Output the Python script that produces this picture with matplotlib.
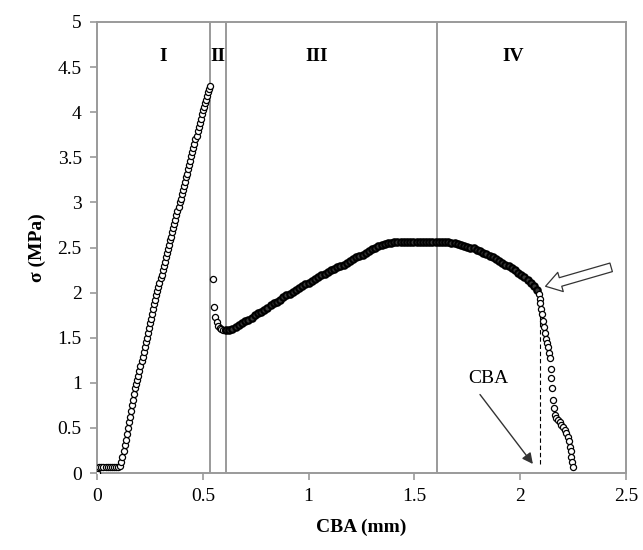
import numpy as np
import matplotlib
matplotlib.use('Agg')
import matplotlib.pyplot as plt

# toe region
x_toe = [0.0, 0.005, 0.01, 0.02, 0.03, 0.04, 0.05, 0.06, 0.07, 0.08, 0.09, 0.10, 0.11]
y_toe = [0.0, 0.05, 0.07, 0.07, 0.07, 0.07, 0.07, 0.07, 0.07, 0.07, 0.07, 0.07, 0.08]

# stage I - linear rise
x_rise = [0.115, 0.12, 0.125, 0.13, 0.135, 0.14, 0.145, 0.15, 0.155, 0.16, 0.165, 0.17,
          0.175, 0.18, 0.185, 0.19, 0.195, 0.20, 0.205, 0.21, 0.215, 0.22, 0.225, 0.23,
          0.235, 0.24, 0.245, 0.25, 0.255, 0.26, 0.265, 0.27, 0.275, 0.28, 0.285, 0.29,
          0.295, 0.30, 0.305, 0.31, 0.315, 0.32, 0.325, 0.33, 0.335, 0.34, 0.345, 0.35,
          0.355, 0.36, 0.365, 0.37, 0.375, 0.38, 0.385, 0.39, 0.395, 0.40, 0.405, 0.41,
          0.415, 0.42, 0.425, 0.43, 0.435, 0.44, 0.445, 0.45, 0.455, 0.46, 0.465, 0.47,
          0.475, 0.48, 0.485, 0.49, 0.495, 0.50, 0.505, 0.51, 0.515, 0.52, 0.525, 0.53, 0.535]
y_rise = [0.12, 0.18, 0.24, 0.31, 0.37, 0.43, 0.50, 0.56, 0.62, 0.69, 0.75, 0.81,
          0.88, 0.94, 0.99, 1.03, 1.08, 1.13, 1.19, 1.24, 1.29, 1.34, 1.40, 1.45,
          1.50, 1.55, 1.61, 1.66, 1.71, 1.76, 1.82, 1.87, 1.92, 1.97, 2.02, 2.06,
          2.11, 2.16, 2.20, 2.25, 2.30, 2.34, 2.39, 2.44, 2.48, 2.53, 2.58, 2.62,
          2.67, 2.72, 2.76, 2.81, 2.86, 2.90, 2.95, 3.00, 3.04, 3.09, 3.14, 3.18,
          3.23, 3.28, 3.32, 3.37, 3.42, 3.46, 3.51, 3.56, 3.60, 3.65, 3.70, 3.74,
          3.79, 3.84, 3.88, 3.93, 3.98, 4.02, 4.06, 4.10, 4.14, 4.18, 4.22, 4.26, 4.29]

# stage II - drop
x_drop = [0.548, 0.552, 0.558, 0.565, 0.572, 0.58, 0.588, 0.596, 0.603]
y_drop = [2.15, 1.84, 1.73, 1.67, 1.63, 1.61, 1.60, 1.59, 1.585]

# stage III/IV - plateau
x_plat = [0.61, 0.625, 0.64, 0.655, 0.67, 0.685, 0.70, 0.715, 0.73, 0.745, 0.76, 0.775,
          0.79, 0.805, 0.82, 0.835, 0.85, 0.865, 0.88, 0.895, 0.91, 0.925, 0.94, 0.955,
          0.97, 0.985, 1.00, 1.015, 1.03, 1.045, 1.06, 1.075, 1.09, 1.105, 1.12, 1.135,
          1.15, 1.165, 1.18, 1.195, 1.21, 1.225, 1.24, 1.255, 1.27, 1.285, 1.30, 1.315,
          1.33, 1.345, 1.36, 1.375, 1.39, 1.405, 1.42, 1.435, 1.45, 1.465, 1.48, 1.495,
          1.51, 1.525, 1.54, 1.555, 1.57, 1.585, 1.60, 1.615, 1.63, 1.645, 1.66, 1.675,
          1.69, 1.705, 1.72, 1.735, 1.75, 1.765, 1.78, 1.795, 1.81, 1.825, 1.84, 1.855,
          1.87, 1.885, 1.90, 1.915, 1.93, 1.945, 1.96, 1.975, 1.99, 2.005, 2.02, 2.035,
          2.05, 2.065, 2.08]
y_plat = [1.59, 1.59, 1.60, 1.62, 1.64, 1.66, 1.68, 1.70, 1.72, 1.75, 1.77, 1.79,
          1.81, 1.83, 1.86, 1.88, 1.90, 1.92, 1.95, 1.97, 1.99, 2.01, 2.03, 2.05,
          2.07, 2.09, 2.11, 2.13, 2.15, 2.17, 2.19, 2.21, 2.23, 2.25, 2.26, 2.28,
          2.30, 2.31, 2.33, 2.35, 2.37, 2.39, 2.41, 2.42, 2.44, 2.46, 2.48, 2.50,
          2.52, 2.53, 2.54, 2.55, 2.55, 2.56, 2.56, 2.56, 2.56, 2.56, 2.56, 2.56,
          2.56, 2.56, 2.56, 2.56, 2.56, 2.56, 2.56, 2.56, 2.56, 2.56, 2.56, 2.55,
          2.55, 2.54, 2.53, 2.52, 2.51, 2.50, 2.49, 2.47, 2.46, 2.44, 2.43, 2.41,
          2.39, 2.37, 2.35, 2.33, 2.31, 2.29, 2.27, 2.25, 2.22, 2.20, 2.17, 2.14,
          2.11, 2.07, 2.03]

# final failure
x_fail = [2.088, 2.092, 2.096, 2.10, 2.104, 2.107, 2.112, 2.118, 2.123, 2.128, 2.131,
          2.136, 2.141, 2.144, 2.147, 2.150, 2.153, 2.158, 2.163, 2.170, 2.178, 2.186,
          2.194, 2.202, 2.21, 2.218, 2.226, 2.23, 2.234, 2.238, 2.242, 2.246, 2.25]
y_fail = [1.99, 1.93, 1.88, 1.82, 1.76, 1.68, 1.62, 1.55, 1.49, 1.44, 1.40,
          1.33, 1.27, 1.15, 1.05, 0.94, 0.81, 0.72, 0.64, 0.61, 0.59, 0.56,
          0.53, 0.51, 0.48, 0.44, 0.40, 0.35, 0.29, 0.24, 0.18, 0.12, 0.07]

stage_bounds = [0.535, 0.607, 1.607]
stage_names = ['I', 'II', 'III', 'IV']
stage_label_x = [0.313, 0.571, 1.038, 1.967]
cba_value = 2.095

x_open = np.concatenate([x_toe, x_rise, x_drop])
y_open = np.concatenate([y_toe, y_rise, y_drop])

plt.rcParams['font.family'] = 'Liberation Serif'

fig = plt.figure(figsize=(6.43, 5.5), dpi=100)
ax = fig.add_axes([0.151, 0.14, 0.8225, 0.82])

# stage boundaries
for b in stage_bounds:
    ax.axvline(b, color='#9a9a9a', lw=1.4, zorder=1)

ax.plot(x_open, y_open, linestyle='none', marker='o', markersize=4.4,
        markerfacecolor='white', markeredgecolor='black', markeredgewidth=0.9, zorder=3)
# plateau is so dense in the original that it reads as a dark band
ax.plot(x_plat, y_plat, color='black', lw=3, zorder=3)
ax.plot(x_plat, y_plat, linestyle='none', marker='o', markersize=4.6,
        markerfacecolor='#3a3a3a', markeredgecolor='black', markeredgewidth=1.6, zorder=3)
ax.plot(x_fail, y_fail, linestyle='none', marker='o', markersize=4.4,
        markerfacecolor='white', markeredgecolor='black', markeredgewidth=0.9, zorder=3)

for name, lx in zip(stage_names, stage_label_x):
    ax.text(lx, 4.62, name, ha='center', va='center', fontsize=14, fontweight='bold')

# CBA marker
ax.vlines(cba_value, 0.1, 1.95, colors='black', linestyles=(0, (4, 2.5)), lw=0.8, zorder=2)
ax.text(1.85, 1.05, 'CBA', ha='center', va='center', fontsize=14)
ax.annotate('', xy=(2.06, 0.1), xytext=(1.81, 0.87),
            arrowprops=dict(arrowstyle='-|>', color='#333333', lw=1.0,
                            mutation_scale=16, shrinkA=0, shrinkB=0))

# hollow arrow pointing at onset of failure
ax.annotate('', xy=(2.12, 2.07), xytext=(2.43, 2.28),
            arrowprops=dict(arrowstyle='simple,head_length=0.7,head_width=0.9,tail_width=0.4',
                            fc='white', ec='#333333', lw=0.9, mutation_scale=16,
                            shrinkA=0, shrinkB=0))

ax.set_xlim(0, 2.5)
ax.set_ylim(0, 5)
ax.set_xticks([0, 0.5, 1, 1.5, 2, 2.5])
ax.set_xticklabels(['0', '0.5', '1', '1.5', '2', '2.5'])
ax.set_yticks([0, 0.5, 1, 1.5, 2, 2.5, 3, 3.5, 4, 4.5, 5])
ax.set_yticklabels(['0', '0.5', '1', '1.5', '2', '2.5', '3', '3.5', '4', '4.5', '5'])

for s in ax.spines.values():
    s.set_color('#9a9a9a')
    s.set_linewidth(1.4)
ax.tick_params(direction='out', length=5, width=1.2, color='#9a9a9a',
               labelsize=14, pad=6)

ax.set_xlabel('CBA (mm)', fontsize=14, fontweight='bold', labelpad=10)
ax.set_ylabel('σ (MPa)', fontsize=14, fontweight='bold', labelpad=8)

fig.savefig('out.png', dpi=100)
